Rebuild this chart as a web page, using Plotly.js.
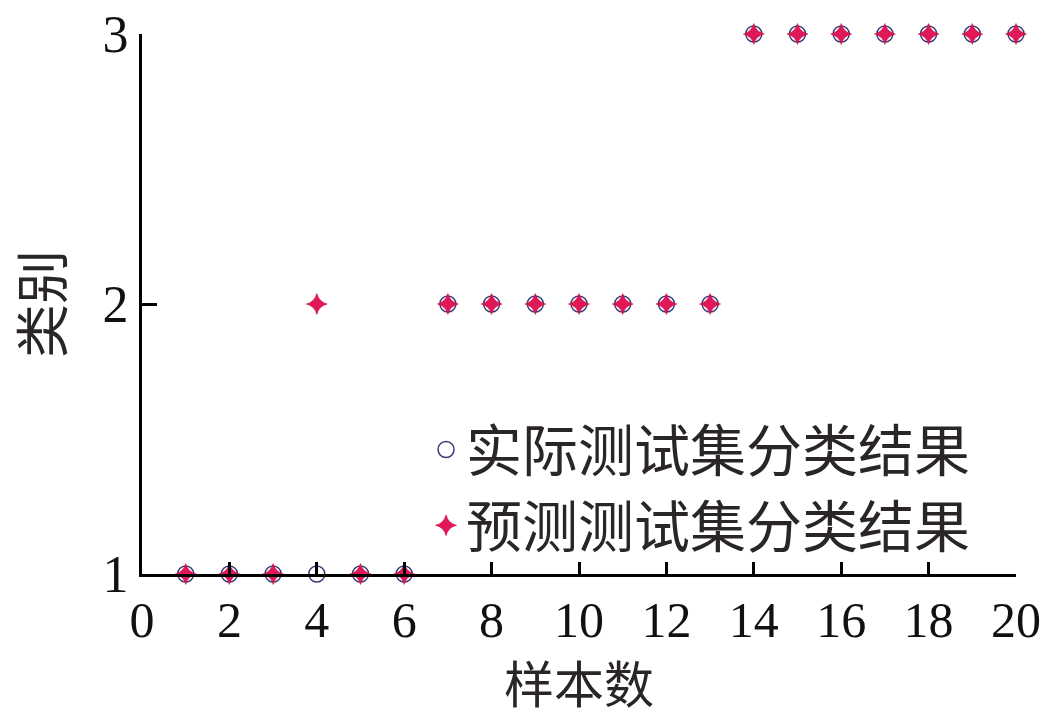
<!DOCTYPE html>
<html>
<head>
<meta charset="utf-8">
<script src="https://cdn.plot.ly/plotly-3.0.1.min.js"></script>
<style>
  html, body { margin: 0; padding: 0; background: #fff; }
  #chart { width: 1044px; height: 717px; }
</style>
</head>
<body>
<div id="chart"></div>
<script>
var samples = [1, 2, 3, 4, 5, 6, 7, 8, 9, 10, 11, 12, 13, 14, 15, 16, 17, 18, 19, 20];
var actualClass = [1, 1, 1, 1, 1, 1, 2, 2, 2, 2, 2, 2, 2, 3, 3, 3, 3, 3, 3, 3];
var predictedClass = [1, 1, 1, 2, 1, 1, 2, 2, 2, 2, 2, 2, 2, 3, 3, 3, 3, 3, 3, 3];
var xTicks = [0, 2, 4, 6, 8, 10, 12, 14, 16, 18, 20];
var yTicks = [1, 2, 3];

var serif = 'Liberation Serif, DejaVu Serif, serif';
var cjk = 'Noto Sans CJK SC, sans-serif';

var actual = {
  type: 'scatter',
  mode: 'markers',
  name: '实际测试集分类结果',
  x: samples,
  y: actualClass,
  cliponaxis: false,
  marker: {
    symbol: 'circle',
    size: 16,
    color: 'rgba(255,255,255,0)',
    line: {color: '#3a3a78', width: 1.5}
  }
};

var predicted = {
  type: 'scatter',
  mode: 'markers',
  name: '预测测试集分类结果',
  x: samples,
  y: predictedClass,
  cliponaxis: false,
  marker: {
    symbol: 'star-diamond',
    size: 15,
    color: '#e0185a',
    line: {color: '#c8002a', width: 0.5}
  }
};

var layout = {
  width: 1044,
  height: 717,
  margin: {l: 142, r: 28, t: 34, b: 143},
  paper_bgcolor: '#fff',
  plot_bgcolor: '#fff',
  showlegend: true,
  legend: {
    x: 0.325,
    y: 0.31,
    xanchor: 'left',
    yanchor: 'top',
    bgcolor: 'rgba(0,0,0,0)',
    font: {family: cjk, size: 56, color: '#2a2626'},
    tracegroupgap: 0,
    itemwidth: 30
  },
  xaxis: {
    range: [0, 20],
    tickvals: xTicks,
    ticktext: xTicks.map(String),
    showgrid: false,
    zeroline: false,
    showline: true,
    linecolor: '#000',
    linewidth: 3,
    ticks: 'inside',
    ticklen: 12,
    tickwidth: 3,
    tickcolor: '#000',
    tickfont: {family: serif, size: 50, color: '#111'},
    title: {text: '样本数', font: {family: cjk, size: 50, color: '#2a2626'}, standoff: 26}
  },
  yaxis: {
    range: [1, 3],
    tickvals: yTicks,
    ticktext: yTicks.map(String),
    showgrid: false,
    zeroline: false,
    showline: true,
    linecolor: '#000',
    linewidth: 3,
    ticks: 'inside',
    ticklen: 15,
    tickwidth: 3,
    tickcolor: '#000',
    tickfont: {family: serif, size: 52, color: '#111'},
    title: {text: '类别', font: {family: cjk, size: 54, color: '#2a2626'}, standoff: 24}
  }
};

Plotly.newPlot('chart', [actual, predicted], layout, {displayModeBar: false, staticPlot: true});
</script>
</body>
</html>
